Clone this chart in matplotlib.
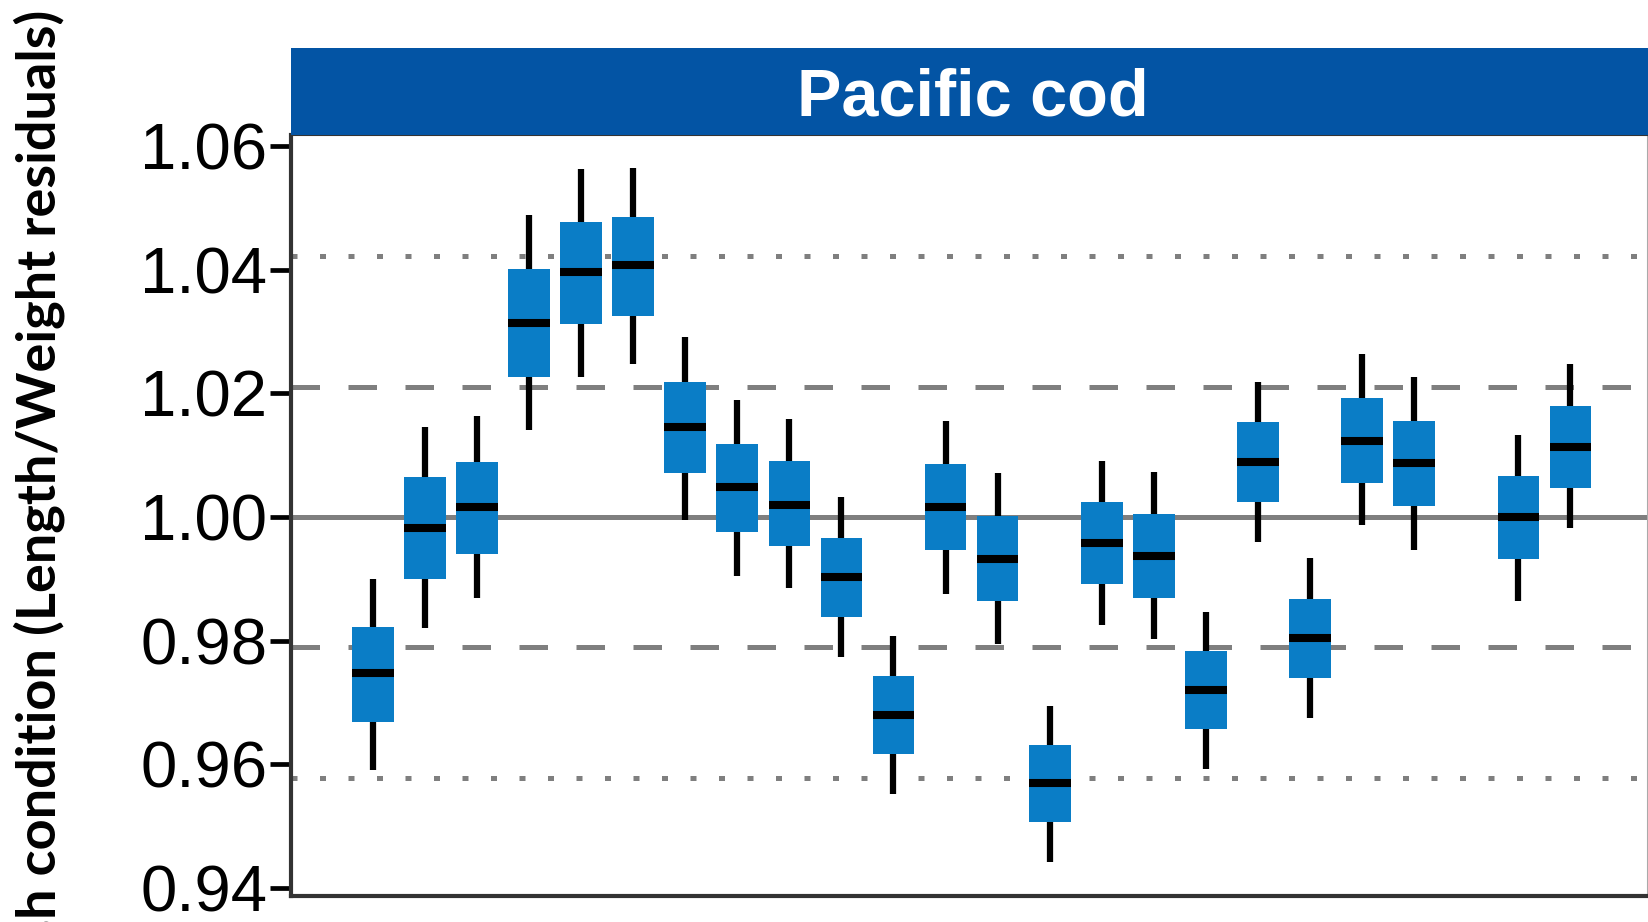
import matplotlib
matplotlib.use("Agg")
import matplotlib.pyplot as plt
from matplotlib.patches import Rectangle

# condition index per survey year (2020 no survey)
anos = [1999, 2000, 2001, 2002, 2003, 2004, 2005, 2006, 2007, 2008, 2009, 2010,
        2011, 2012, 2013, 2014, 2015, 2016, 2017, 2018, 2019, 2021, 2022]
bigode_inf = [0.9591, 0.9820, 0.9869, 1.0140, 1.0226, 1.0248, 0.9996, 0.9904, 0.9885, 0.9773,
              0.9552, 0.9875, 0.9795, 0.9442, 0.9826, 0.9802, 0.9593, 0.9959, 0.9675, 0.9987,
              0.9947, 0.9864, 0.9983]
q1 = [0.9669, 0.9900, 0.9941, 1.0226, 1.0312, 1.0326, 1.0071, 0.9976, 0.9953, 0.9839,
      0.9616, 0.9947, 0.9865, 0.9506, 0.9891, 0.9869, 0.9657, 1.0024, 0.9740, 1.0055,
      1.0018, 0.9932, 1.0047]
mediana = [0.9748, 0.9983, 1.0016, 1.0314, 1.0396, 1.0408, 1.0146, 1.0049, 1.0020, 0.9903,
           0.9679, 1.0016, 0.9932, 0.9569, 0.9958, 0.9937, 0.9721, 1.0089, 0.9804, 1.0123,
           1.0087, 1.0000, 1.0114]
q3 = [0.9822, 1.0065, 1.0089, 1.0401, 1.0477, 1.0486, 1.0218, 1.0118, 1.0091, 0.9966,
      0.9743, 1.0085, 1.0002, 0.9632, 1.0024, 1.0005, 0.9784, 1.0153, 0.9868, 1.0193,
      1.0155, 1.0067, 1.0179]
bigode_sup = [0.9899, 1.0145, 1.0163, 1.0488, 1.0563, 1.0565, 1.0292, 1.0190, 1.0158, 1.0032,
              0.9808, 1.0155, 1.0071, 0.9694, 1.0090, 1.0073, 0.9846, 1.0218, 0.9934, 1.0263,
              1.0226, 1.0133, 1.0247]

media = 1.00
desvio = 0.0211
yticks = [0.94, 0.96, 0.98, 1.00, 1.02, 1.04, 1.06]

azul_caixa = '#0A7DC6'
azul_faixa = '#0354A4'
cinza = '#7f7f7f'

W, H = 1649, 922
fig = plt.figure(figsize=(W / 100, H / 100), dpi=100)
ax = fig.add_axes([291 / W, 1 - 896 / H, (1648 - 291) / W, (896 - 135) / H])

# linhas de referencia: media, +-1 dp, +-2 dp
ax.axhline(media, color=cinza, lw=3.6, zorder=1)
for k in (-1, 1):
    ax.axhline(media + k * desvio, color=cinza, lw=3.6, dashes=(5.7, 5.7), dash_capstyle='butt', zorder=1)
    ax.axhline(media + 2 * k * desvio, color=cinza, lw=3.6, dashes=(1.2, 4.5), dash_capstyle='butt', zorder=1)

stats = []
for lo, a, m, b, hi in zip(bigode_inf, q1, mediana, q3, bigode_sup):
    stats.append({'whislo': lo, 'q1': a, 'med': m, 'q3': b, 'whishi': hi, 'fliers': []})

ax.bxp(stats, positions=anos, widths=0.8, patch_artist=True, showcaps=False,
       showfliers=False, manage_ticks=False,
       boxprops=dict(facecolor=azul_caixa, edgecolor='none', linewidth=0),
       medianprops=dict(color='black', linewidth=5.8, solid_capstyle='butt'),
       whiskerprops=dict(color='black', linewidth=4.5, solid_capstyle='butt'))

ax.set_xlim(1997.43, 2023.49)
ax.set_ylim(0.9387, 1.0618)
ax.set_xticks([])
ax.set_yticks(yticks)
ax.set_yticklabels([f'{v:.2f}' for v in yticks], fontfamily='Liberation Sans', fontsize=47, color='black')
ax.tick_params(axis='y', length=15, width=3.4, pad=2, color='black')

for lado in ('left', 'bottom'):
    ax.spines[lado].set_linewidth(3)
    ax.spines[lado].set_color('#333333')
ax.spines['right'].set_linewidth(1.5)
ax.spines['right'].set_color('#aaaaaa')
ax.spines['top'].set_linewidth(1.5)
ax.spines['top'].set_color('#333333')

# faixa do painel
fig.patches.append(Rectangle((291 / W, 1 - 135 / H), 1 - 291 / W, 87.3 / H,
                             transform=fig.transFigure, facecolor=azul_faixa,
                             edgecolor='none', zorder=0))
fig.text(973 / W, 1 - 115 / H, 'Pacific cod', color='white', fontsize=48,
         fontweight='bold', fontfamily='Liberation Sans', ha='center', va='baseline')

fig.text(56 / W, 1 - 10 / H, 'Fish condition (Length/Weight residuals)', rotation=90,
         rotation_mode='anchor', ha='right', va='baseline', fontsize=39,
         fontweight='bold', fontfamily=['Lato', 'DejaVu Sans'], color='black')

fig.savefig('out.png', dpi=100)
